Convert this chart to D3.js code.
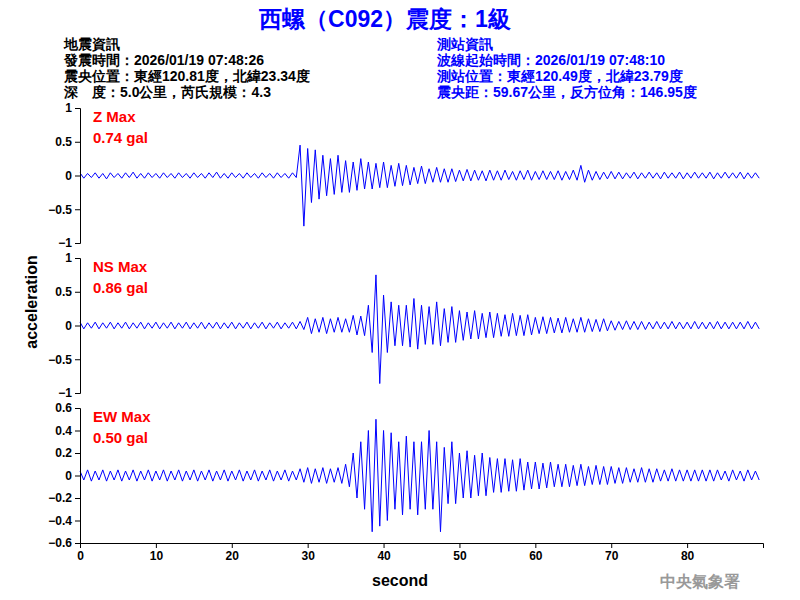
<!DOCTYPE html>
<html><head><meta charset="utf-8">
<script src="https://cdn.jsdelivr.net/npm/d3@7"></script>
<style>body{margin:0;background:#fff}text{font-family:Arial,"Liberation Sans",sans-serif}</style>
</head><body><svg id="c" width="800" height="600"></svg>
<script>
const seconds = d3.range(0, 90);
const zMax = [.04,.03,.04,.03,.04,.03,.04,.05,.03,.04,.03,.04,.03,.04,.03,.04,.03,.04,.05,.03,.04,.03,.04,.03,.04,.03,.04,.03,.04,.45,.40,.38,.30,.25,.30,.22,.20,.25,.20,.18,.20,.15,.18,.15,.12,.14,.10,.12,.10,.10,.08,.09,.08,.07,.08,.07,.08,.06,.07,.08,.06,.07,.06,.07,.06,.08,.15,.08,.06,.05,.06,.05,.04,.05,.04,.05,.04,.05,.04,.05,.04,.05,.04,.05,.04,.05,.04,.05,.04,.04];
const zMin = [-.04,-.03,-.04,-.05,-.03,-.04,-.03,-.04,-.04,-.03,-.04,-.03,-.04,-.03,-.04,-.03,-.04,-.03,-.04,-.04,-.03,-.04,-.03,-.04,-.03,-.04,-.03,-.04,-.03,-.75,-.40,-.35,-.30,-.28,-.25,-.25,-.22,-.20,-.20,-.18,-.18,-.16,-.15,-.14,-.12,-.12,-.10,-.10,-.10,-.09,-.08,-.08,-.07,-.08,-.07,-.07,-.06,-.07,-.06,-.07,-.06,-.06,-.06,-.07,-.06,-.07,-.10,-.07,-.06,-.05,-.05,-.05,-.04,-.05,-.04,-.04,-.05,-.04,-.04,-.05,-.04,-.04,-.04,-.05,-.04,-.04,-.04,-.05,-.04,-.04];
const nsMax = [.05,.04,.05,.04,.05,.04,.05,.04,.05,.04,.05,.04,.05,.04,.05,.04,.05,.04,.05,.04,.05,.04,.05,.04,.05,.04,.05,.04,.05,.06,.12,.10,.12,.10,.12,.10,.15,.14,.30,.75,.45,.35,.30,.30,.40,.30,.28,.35,.25,.28,.22,.20,.22,.18,.20,.18,.16,.18,.15,.16,.12,.13,.12,.11,.12,.10,.12,.10,.09,.10,.07,.06,.07,.06,.06,.05,.06,.05,.06,.05,.05,.06,.05,.05,.06,.05,.05,.05,.06,.05];
const nsMin = [-.05,-.04,-.05,-.04,-.05,-.04,-.05,-.04,-.05,-.04,-.05,-.04,-.05,-.04,-.05,-.04,-.05,-.04,-.05,-.04,-.05,-.04,-.05,-.04,-.05,-.04,-.05,-.04,-.05,-.06,-.12,-.10,-.12,-.10,-.10,-.10,-.14,-.15,-.40,-.86,-.40,-.30,-.30,-.32,-.35,-.28,-.28,-.30,-.25,-.25,-.22,-.20,-.20,-.18,-.18,-.16,-.16,-.15,-.15,-.14,-.12,-.12,-.11,-.11,-.10,-.10,-.10,-.09,-.09,-.08,-.07,-.06,-.06,-.06,-.06,-.05,-.05,-.05,-.05,-.05,-.05,-.05,-.05,-.05,-.05,-.05,-.05,-.05,-.05,-.05];
const ewMax = [.04,.05,.04,.05,.04,.05,.04,.05,.04,.05,.04,.05,.04,.05,.04,.05,.04,.05,.04,.05,.04,.05,.04,.05,.04,.05,.04,.05,.04,.06,.07,.06,.07,.06,.07,.10,.20,.30,.40,.50,.40,.38,.30,.35,.30,.30,.40,.30,.25,.30,.20,.22,.18,.20,.16,.15,.15,.14,.15,.12,.12,.11,.12,.10,.10,.09,.10,.08,.09,.08,.08,.07,.07,.06,.07,.06,.06,.05,.06,.05,.05,.05,.05,.05,.05,.04,.05,.04,.05,.04];
const ewMin = [-.04,-.05,-.04,-.05,-.04,-.05,-.04,-.05,-.04,-.05,-.04,-.05,-.04,-.05,-.04,-.05,-.04,-.05,-.04,-.05,-.04,-.05,-.04,-.05,-.04,-.05,-.04,-.05,-.04,-.06,-.07,-.06,-.07,-.06,-.07,-.10,-.20,-.30,-.50,-.45,-.40,-.30,-.35,-.30,-.35,-.30,-.30,-.50,-.25,-.25,-.20,-.20,-.18,-.18,-.15,-.15,-.14,-.14,-.13,-.12,-.12,-.11,-.10,-.10,-.10,-.09,-.09,-.08,-.08,-.08,-.07,-.07,-.06,-.06,-.06,-.06,-.05,-.05,-.05,-.05,-.05,-.05,-.05,-.05,-.04,-.05,-.04,-.05,-.04,-.04];
const infoLeft = ["地震資訊","發震時間：2026/01/19 07:48:26","震央位置：東經120.81度，北緯23.34度","深　度：5.0公里，芮氏規模：4.3"];
const infoRight = ["測站資訊","波線起始時間：2026/01/19 07:48:10","測站位置：東經120.49度，北緯23.79度","震央距：59.67公里，反方位角：146.95度"];
const panels = [
 {name:"Z Max", peak:"0.74 gal", max:zMax, min:zMin, dom:[-1,1], ticks:[-1,-0.5,0,0.5,1], top:108},
 {name:"NS Max", peak:"0.86 gal", max:nsMax, min:nsMin, dom:[-1,1], ticks:[-1,-0.5,0,0.5,1], top:258},
 {name:"EW Max", peak:"0.50 gal", max:ewMax, min:ewMin, dom:[-0.6,0.6], ticks:[-0.6,-0.4,-0.2,0,0.2,0.4,0.6], top:408}
];
const xTicks = [0,10,20,30,40,50,60,70,80];
const svg = d3.select("#c");
const x = d3.scaleLinear().domain([0,90]).range([80,763]);
const H = 135;
panels.forEach((p,i)=>{
  const y = d3.scaleLinear().domain(p.dom).range([p.top+H,p.top]);
  const pts=[];
  seconds.forEach(s=>{pts.push([s,p.max[s]]);pts.push([s+0.5,p.min[s]]);});
  svg.append("path").datum(pts).attr("fill","none").attr("stroke","#0000ff").attr("stroke-width",1)
    .attr("d",d3.line().x(d=>x(d[0])).y(d=>y(d[1])));
  const ax = svg.append("g").attr("transform","translate(80,0)")
    .call(d3.axisLeft(y).tickValues(p.ticks).tickFormat(d3.format("")).tickSizeOuter(0).tickSize(5));
  ax.selectAll("text").attr("font-size",12).attr("font-weight","bold").attr("fill","#000");
  ax.select(".domain").attr("stroke","#000");
  svg.append("text").attr("x",93).attr("y",p.top+14).attr("fill","#ff0000").attr("font-size",15).attr("font-weight","bold").text(p.name);
  svg.append("text").attr("x",93).attr("y",p.top+35).attr("fill","#ff0000").attr("font-size",15).attr("font-weight","bold").text(p.peak);
});
const xa = svg.append("g").attr("transform","translate(0,543)")
  .call(d3.axisBottom(x).tickValues(xTicks).tickSizeOuter(0).tickSize(5));
xa.selectAll("text").attr("font-size",12).attr("font-weight","bold").attr("fill","#000");
svg.append("text").attr("x",400).attr("y",586).attr("text-anchor","middle").attr("font-size",16).attr("font-weight","bold").text("second");
svg.append("text").attr("transform","translate(37,302) rotate(-90)").attr("text-anchor","middle").attr("font-size",16).attr("font-weight","bold").text("acceleration");
svg.append("text").attr("x",700).attr("y",587).attr("text-anchor","middle").attr("font-size",16).attr("fill","#999")
  .attr("font-family","Noto Sans CJK TC").attr("font-weight","bold").text("中央氣象署");
svg.append("text").attr("x",385).attr("y",27).attr("text-anchor","middle").attr("font-size",23).attr("font-weight","bold")
  .attr("fill","#0000ff").attr("font-family","Noto Sans CJK TC").text("西螺（C092）震度：1級");
infoLeft.forEach((t,i)=>svg.append("text").attr("x",64).attr("y",49+i*16).attr("font-size",14).attr("font-weight","bold").attr("fill","#000")
  .attr("font-family","Noto Sans CJK TC").text(t));
infoRight.forEach((t,i)=>svg.append("text").attr("x",437).attr("y",49+i*16).attr("font-size",14).attr("font-weight","bold").attr("fill","#0000ff")
  .attr("font-family","Noto Sans CJK TC").text(t));
</script></body></html>
